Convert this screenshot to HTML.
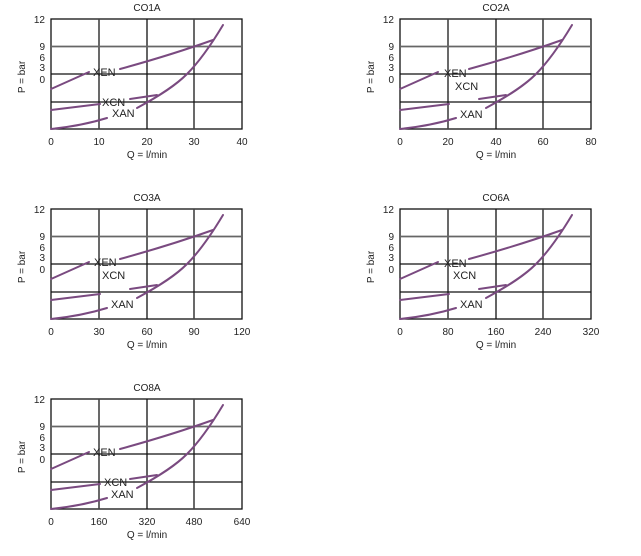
<!DOCTYPE html>
<html><head><meta charset="utf-8"><style>
html,body{margin:0;padding:0;background:#fff;}
svg{display:block;}
text{font-family:"Liberation Sans",sans-serif;fill:#222;}
</style></head><body>
<svg width="641" height="556" viewBox="0 0 641 556" xmlns="http://www.w3.org/2000/svg">
<defs>
<g id="grid">
  <rect x="0" y="0" width="191" height="110" fill="#fff" stroke="#111" stroke-width="1.3"/>
  <line x1="48" y1="0" x2="48" y2="110" stroke="#444" stroke-width="1.6"/>
  <line x1="96" y1="0" x2="96" y2="110" stroke="#111" stroke-width="1.3"/>
  <line x1="143" y1="0" x2="143" y2="110" stroke="#444" stroke-width="1.6"/>
  <line x1="0" y1="27.5" x2="191" y2="27.5" stroke="#666" stroke-width="1.8"/>
  <line x1="0" y1="55" x2="191" y2="55" stroke="#111" stroke-width="1.3"/>
  <line x1="0" y1="83" x2="191" y2="83" stroke="#111" stroke-width="1.3"/>
  <text x="-6" y="4" font-size="10" text-anchor="end">12</text>
  <text x="-6" y="31" font-size="10" text-anchor="end">9</text>
  <text x="-6" y="42" font-size="10" text-anchor="end">6</text>
  <text x="-6" y="52" font-size="10" text-anchor="end">3</text>
  <text x="-6" y="64" font-size="10" text-anchor="end">0</text>
  <text x="-26" y="58" font-size="10" text-anchor="middle" transform="rotate(-90 -26 58)">P = bar</text>
  <text x="96" y="139" font-size="10" text-anchor="middle">Q = l/min</text>
</g>
<g id="curves" fill="none" stroke="#7a4a80" stroke-width="2" stroke-linecap="round">
  <path d="M0,70 L38,53"/>
  <path d="M69,50 Q120,36 162,21"/>
  <path d="M0,110 Q30,107 56,99"/>
  <path d="M86,89 C110,76 125,66 136,55 C148,43 160,26 172,6"/>
  <path d="M0,91 L49,85"/>
  <path d="M79,80 L106,76"/>
</g>
</defs>

<!-- CO1A -->
<g transform="translate(51,19)">
  <use href="#grid"/><use href="#curves"/>
  <text x="96" y="-8" font-size="10" text-anchor="middle">CO1A</text>
  <text x="0" y="126" font-size="10" text-anchor="middle">0</text>
  <text x="48" y="126" font-size="10" text-anchor="middle">10</text>
  <text x="96" y="126" font-size="10" text-anchor="middle">20</text>
  <text x="143" y="126" font-size="10" text-anchor="middle">30</text>
  <text x="191" y="126" font-size="10" text-anchor="middle">40</text>
  <text x="42" y="57" font-size="11">XEN</text>
  <text x="51" y="87" font-size="11">XCN</text>
  <text x="61" y="98" font-size="11">XAN</text>
</g>
<!-- CO2A -->
<g transform="translate(400,19)">
  <use href="#grid"/><use href="#curves"/>
  <text x="96" y="-8" font-size="10" text-anchor="middle">CO2A</text>
  <text x="0" y="126" font-size="10" text-anchor="middle">0</text>
  <text x="48" y="126" font-size="10" text-anchor="middle">20</text>
  <text x="96" y="126" font-size="10" text-anchor="middle">40</text>
  <text x="143" y="126" font-size="10" text-anchor="middle">60</text>
  <text x="191" y="126" font-size="10" text-anchor="middle">80</text>
  <text x="44" y="58" font-size="11">XEN</text>
  <text x="55" y="71" font-size="11">XCN</text>
  <text x="60" y="99" font-size="11">XAN</text>
</g>
<!-- CO3A -->
<g transform="translate(51,209)">
  <use href="#grid"/><use href="#curves"/>
  <text x="96" y="-8" font-size="10" text-anchor="middle">CO3A</text>
  <text x="0" y="126" font-size="10" text-anchor="middle">0</text>
  <text x="48" y="126" font-size="10" text-anchor="middle">30</text>
  <text x="96" y="126" font-size="10" text-anchor="middle">60</text>
  <text x="143" y="126" font-size="10" text-anchor="middle">90</text>
  <text x="191" y="126" font-size="10" text-anchor="middle">120</text>
  <text x="43" y="57" font-size="11">XEN</text>
  <text x="51" y="70" font-size="11">XCN</text>
  <text x="60" y="99" font-size="11">XAN</text>
</g>
<!-- CO6A -->
<g transform="translate(400,209)">
  <use href="#grid"/><use href="#curves"/>
  <text x="96" y="-8" font-size="10" text-anchor="middle">CO6A</text>
  <text x="0" y="126" font-size="10" text-anchor="middle">0</text>
  <text x="48" y="126" font-size="10" text-anchor="middle">80</text>
  <text x="96" y="126" font-size="10" text-anchor="middle">160</text>
  <text x="143" y="126" font-size="10" text-anchor="middle">240</text>
  <text x="191" y="126" font-size="10" text-anchor="middle">320</text>
  <text x="44" y="58" font-size="11">XEN</text>
  <text x="53" y="70" font-size="11">XCN</text>
  <text x="60" y="99" font-size="11">XAN</text>
</g>
<!-- CO8A -->
<g transform="translate(51,399)">
  <use href="#grid"/><use href="#curves"/>
  <text x="96" y="-8" font-size="10" text-anchor="middle">CO8A</text>
  <text x="0" y="126" font-size="10" text-anchor="middle">0</text>
  <text x="48" y="126" font-size="10" text-anchor="middle">160</text>
  <text x="96" y="126" font-size="10" text-anchor="middle">320</text>
  <text x="143" y="126" font-size="10" text-anchor="middle">480</text>
  <text x="191" y="126" font-size="10" text-anchor="middle">640</text>
  <text x="42" y="57" font-size="11">XEN</text>
  <text x="53" y="87" font-size="11">XCN</text>
  <text x="60" y="99" font-size="11">XAN</text>
</g>
</svg>
</body></html>
